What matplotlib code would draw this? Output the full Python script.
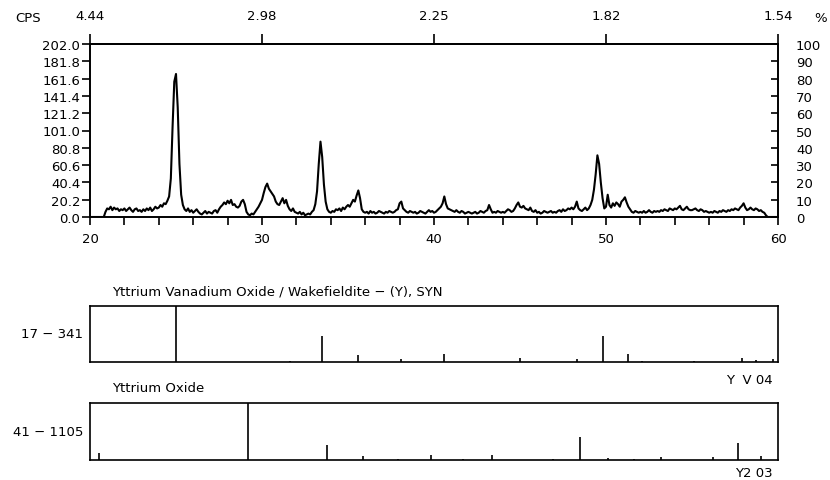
import numpy as np
import matplotlib
matplotlib.use("Agg")
import matplotlib.pyplot as plt

plt.rcParams['font.family'] = ['DejaVu Sans']

# ---- measured pattern (2-theta from 20.0 to 60.0 in 0.1 deg steps, CPS) ----
two_theta_start = 20.0
two_theta_step = 0.1
cps = [
    0, 0, 0, 0, 0, 0, 0, 0, 0, 6,
    10, 9, 12, 8, 11, 9, 10, 7, 9, 8,
    10, 7, 9, 11, 8, 6, 9, 10, 7, 8,
    6, 9, 7, 10, 8, 11, 7, 9, 12, 10,
    11, 14, 12, 16, 15, 19, 24, 45, 105, 158,
    167, 128, 62, 26, 14, 9, 7, 10, 6, 8,
    5, 7, 9, 6, 4, 3, 5, 7, 4, 6,
    5, 4, 7, 8, 5, 9, 12, 14, 17, 15,
    19, 16, 20, 14, 15, 12, 11, 13, 18, 20,
    15, 6, 3, 2, 4, 3, 6, 9, 12, 16,
    20, 28, 35, 39, 33, 30, 27, 24, 18, 15,
    14, 18, 22, 16, 20, 13, 9, 7, 10, 6,
    5, 4, 6, 3, 5, 2, 3, 4, 3, 6,
    8, 15, 30, 62, 88, 70, 38, 18, 9, 6,
    5, 7, 6, 9, 8, 10, 7, 11, 9, 12,
    14, 12, 16, 20, 18, 25, 31, 22, 9, 6,
    5, 6, 4, 7, 5, 6, 4, 5, 7, 6,
    5, 4, 6, 5, 7, 6, 5, 6, 8, 9,
    16, 18, 10, 8, 6, 5, 7, 6, 5, 6,
    4, 5, 7, 6, 5, 4, 6, 8, 6, 7,
    5, 6, 8, 10, 12, 16, 24, 15, 10, 9,
    8, 7, 6, 8, 6, 5, 7, 6, 4, 5,
    6, 5, 4, 5, 6, 4, 5, 7, 6, 5,
    7, 8, 14, 9, 5, 6, 5, 7, 6, 5,
    6, 5, 7, 9, 8, 6, 7, 10, 14, 17,
    12, 11, 13, 10, 9, 8, 11, 7, 6, 8,
    5, 6, 4, 5, 7, 6, 5, 6, 7, 5,
    6, 5, 7, 8, 6, 9, 7, 8, 10, 9,
    11, 9, 12, 18, 10, 8, 7, 9, 11, 8,
    10, 14, 20, 32, 50, 72, 62, 40, 22, 10,
    12, 26, 14, 11, 16, 13, 17, 15, 12, 18,
    20, 23, 17, 12, 9, 6, 5, 7, 6, 5,
    6, 5, 7, 5, 6, 8, 6, 5, 7, 6,
    7, 6, 8, 7, 9, 8, 7, 10, 9, 8,
    10, 9, 11, 13, 9, 8, 10, 12, 9, 8,
    8, 9, 10, 8, 7, 9, 8, 6, 7, 6,
    5, 6, 5, 7, 6, 5, 7, 6, 8, 7,
    6, 8, 7, 9, 8, 10, 9, 8, 11, 13,
    16, 11, 8, 9, 11, 9, 8, 10, 9, 7,
    8, 6, 5, 2, 0, 0, 0, 0, 0, 0,
    0,
]

# axis labels
cps_ticks = [0.0, 20.2, 40.4, 60.6, 80.8, 101.0, 121.2, 141.4, 161.6, 181.8, 202.0]
pct_ticks = [0, 10, 20, 30, 40, 50, 60, 70, 80, 90, 100]
x_major = [20, 30, 40, 50, 60]
d_labels = ["4.44", "2.98", "2.25", "1.82", "1.54"]

# ---- reference patterns (2-theta, relative intensity %) ----
ref1_name = "Yttrium Vanadium Oxide / Wakefieldite \u2212 (Y), SYN"
ref1_card = "17 \u2212 341"
ref1_formula = "Y  V 04"
ref1_pos = [25.0, 31.6, 33.5, 35.6, 38.1, 40.6, 45.0, 48.3, 49.8, 51.3, 52.1, 55.1, 57.9, 58.7, 59.7]
ref1_int = [100, 2, 47, 12, 6, 14, 8, 6, 47, 14, 2, 2, 7, 3, 5]

ref2_name = "Yttrium Oxide"
ref2_card = "41 \u2212 1105"
ref2_formula = "Y2 03"
ref2_pos = [20.5, 29.2, 33.8, 35.9, 37.9, 39.8, 41.7, 43.4, 46.9, 48.5, 50.1, 51.6, 53.2, 56.2, 57.7, 59.0]
ref2_int = [12, 100, 27, 7, 2, 8, 2, 8, 2, 40, 4, 2, 5, 5, 30, 7]

W, H = 830, 481
fig = plt.figure(figsize=(W / 100, H / 100), dpi=100)

def fx(px):
    return px / W

def fy(py):
    return 1 - py / H

FS = 9.5
LW = 1.2

# ---- main axes ----
L, R = 90, 778
top, bot = 45, 218
ax = fig.add_axes([fx(L), fy(bot), fx(R) - fx(L), fy(top) - fy(bot)])
x = two_theta_start + two_theta_step * np.arange(len(cps))
ax.plot(x, cps, color='black', lw=1.5)
ax.set_xlim(20, 60)
ax.set_ylim(0, 202)
for s in ax.spines.values():
    s.set_linewidth(LW)
ax.set_yticks(cps_ticks)
ax.set_yticklabels([f"{v:.1f}" for v in cps_ticks], fontsize=FS)
ax.tick_params(axis='y', direction='out', length=6, width=LW, pad=1)
ax.set_xticks(x_major)
ax.set_xticklabels([str(v) for v in x_major], fontsize=FS)
ax.set_xticks(np.arange(20, 61, 2), minor=True)
ax.tick_params(axis='x', which='both', direction='out', length=6, width=LW, pad=5)

# top axis: d-spacing
sec = ax.secondary_xaxis('top')
sec.set_xticks(x_major)
sec.set_xticklabels(d_labels, fontsize=FS)
sec.tick_params(direction='out', length=7, width=LW, pad=9)
sec.spines['top'].set_linewidth(LW)

# right axis: percent
ax2 = ax.twinx()
ax2.set_ylim(0, 100)
ax2.set_yticks(pct_ticks)
ax2.set_yticklabels([str(v) for v in pct_ticks], fontsize=FS)
ax2.tick_params(axis='y', direction='in', length=5, width=LW, pad=13)
for s in ax2.spines.values():
    s.set_linewidth(LW)

fig.text(fx(28), fy(18), "CPS", fontsize=FS, ha='center', va='center')
fig.text(fx(821), fy(18), "%", fontsize=FS, ha='center', va='center')

# ---- reference stick boxes ----
def stick_box(top_px, bot_px, pos, inten, name, card, formula, name_y, formula_y):
    a = fig.add_axes([fx(L), fy(bot_px), fx(R) - fx(L), fy(top_px) - fy(bot_px)])
    a.vlines(pos, 0, inten, color='black', lw=1.2)
    a.set_xlim(20, 60)
    a.set_ylim(0, 100)
    a.set_xticks([])
    a.set_yticks([])
    for s in a.spines.values():
        s.set_linewidth(LW)
    fig.text(fx(112), fy(name_y), name, fontsize=FS, ha='left', va='center')
    fig.text(fx(83), fy((top_px + bot_px) / 2), card, fontsize=FS, ha='right', va='center')
    fig.text(fx(773), fy(formula_y), formula, fontsize=FS, ha='right', va='center')
    return a

stick_box(307, 363, ref1_pos, ref1_int, ref1_name, ref1_card, ref1_formula, 292, 380)
stick_box(404, 461, ref2_pos, ref2_int, ref2_name, ref2_card, ref2_formula, 388, 474)

fig.savefig("out.png", dpi=100)
